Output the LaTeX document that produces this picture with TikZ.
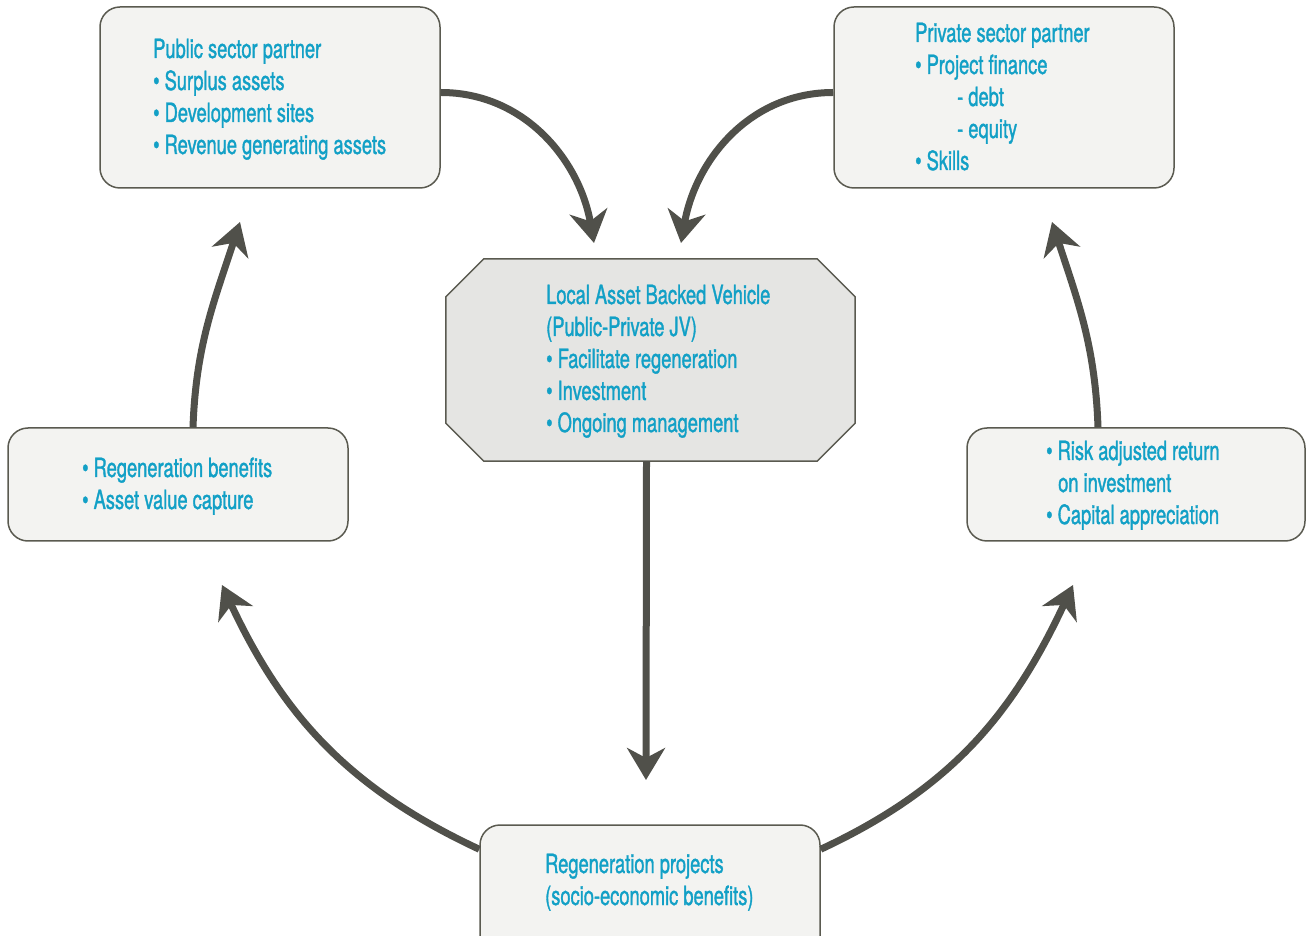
\documentclass[tikz,border=0pt]{standalone}
\usepackage{fontspec}
\setmainfont{TeX Gyre Heros}[FakeStretch=0.69,FakeBold=1.2]
\usetikzlibrary{arrows.meta,calc}
\definecolor{txtblue}{HTML}{12A0C6}
\definecolor{boxline}{HTML}{5A5A50}
\definecolor{boxfill}{HTML}{F3F3F1}
\definecolor{labfill}{HTML}{E5E5E3}
\definecolor{arrowc}{HTML}{50504A}
\begin{document}
\begin{tikzpicture}[x=1pt,y=1pt,
  box/.style={draw=boxline, fill=boxfill, line width=1.5pt, rounded corners=20pt,
              minimum width=340pt, inner sep=0pt},
  lbl/.style={anchor=base west, align=left, text=txtblue, inner sep=0pt,
              font=\fontsize{26.5}{32}\selectfont},
  flow/.style={draw=arrowc, line width=7pt,
               -{Stealth[length=32pt,width=38pt,inset=10pt]}}]
\useasboundingbox (0,0) rectangle (1306,935);
\clip (0,0) rectangle (1306,935);

% boxes
\node[box, minimum height=181pt] (pub) at (270,837.5) {};
\node[box, minimum height=181pt] (priv) at (1004,837.5) {};
\node[box, minimum height=113pt] (benefits) at (178,450.5) {};
\node[box, minimum height=113pt, minimum width=338pt] (returns) at (1136,450.5) {};
\node[box, minimum height=140pt] (bot) at (650,40) {};
\node[draw=none, minimum width=409pt, minimum height=202pt, inner sep=0pt] (lab) at (650.5,575) {};

% octagonal joint-venture box
\draw[boxline, fill=labfill, line width=1.5pt]
  ($(lab.north west)+(38,0)$) -- ($(lab.north east)+(-38,0)$) --
  ($(lab.north east)+(0,-38)$) -- ($(lab.south east)+(0,38)$) --
  ($(lab.south east)+(-38,0)$) -- ($(lab.south west)+(38,0)$) --
  ($(lab.south west)+(0,38)$) -- ($(lab.north west)+(0,-38)$) -- cycle;

% arrow tips
\coordinate (t1) at (594,692);
\coordinate (t2) at (681,692);
\coordinate (t3) at (646,155);
\coordinate (t4) at (240,713);
\coordinate (t5) at (1052,713);
\coordinate (t6) at (222,350);
\coordinate (t7) at (1073,350);

% connectors
\draw[flow] ($(pub.east)+(0,5)$) to[out=0,in=100] (t1);
\draw[flow] ($(priv.west)+(0,5)$) to[out=180,in=80] (t2);
\draw[flow] ($(lab.south)+(-4,0)$) -- (t3);
\draw[flow] ($(benefits.north)+(15,0)$) to[out=88,in=-108] (t4);
\draw[flow] ($(returns.north)+(-38,0)$) to[out=92,in=-72] (t5);
\draw[flow] ($(bot.north west)+(0,-25)$) to[out=155,in=-65] (t6);
\draw[flow] ($(bot.north east)+(0,-25)$) to[out=25,in=-115] (t7);

% labels (anchored at the baseline of their last line)
\node[lbl] (pubtxt) at (153,781) {Public sector partner\\• Surplus assets\\• Development sites\\• Revenue generating assets};
\node[lbl] (privtxt) at (915,765) {Private sector partner\\• Project finance\\\hspace*{42pt}- debt\\\hspace*{42pt}- equity\\• Skills};
\node[lbl] (labtxt) at (546,503) {Local Asset Backed Vehicle\\(Public-Private JV)\\• Facilitate regeneration\\• Investment\\• Ongoing management};
\node[lbl] (bentxt) at (82,426) {• Regeneration benefits\\• Asset value capture};
\node[lbl] (rettxt) at (1046,411) {• Risk adjusted return\\\hspace*{12pt}on investment\\• Capital appreciation};
\node[lbl] (bottxt) at (545,30) {Regeneration projects\\(socio-economic benefits)};
\end{tikzpicture}
\end{document}
